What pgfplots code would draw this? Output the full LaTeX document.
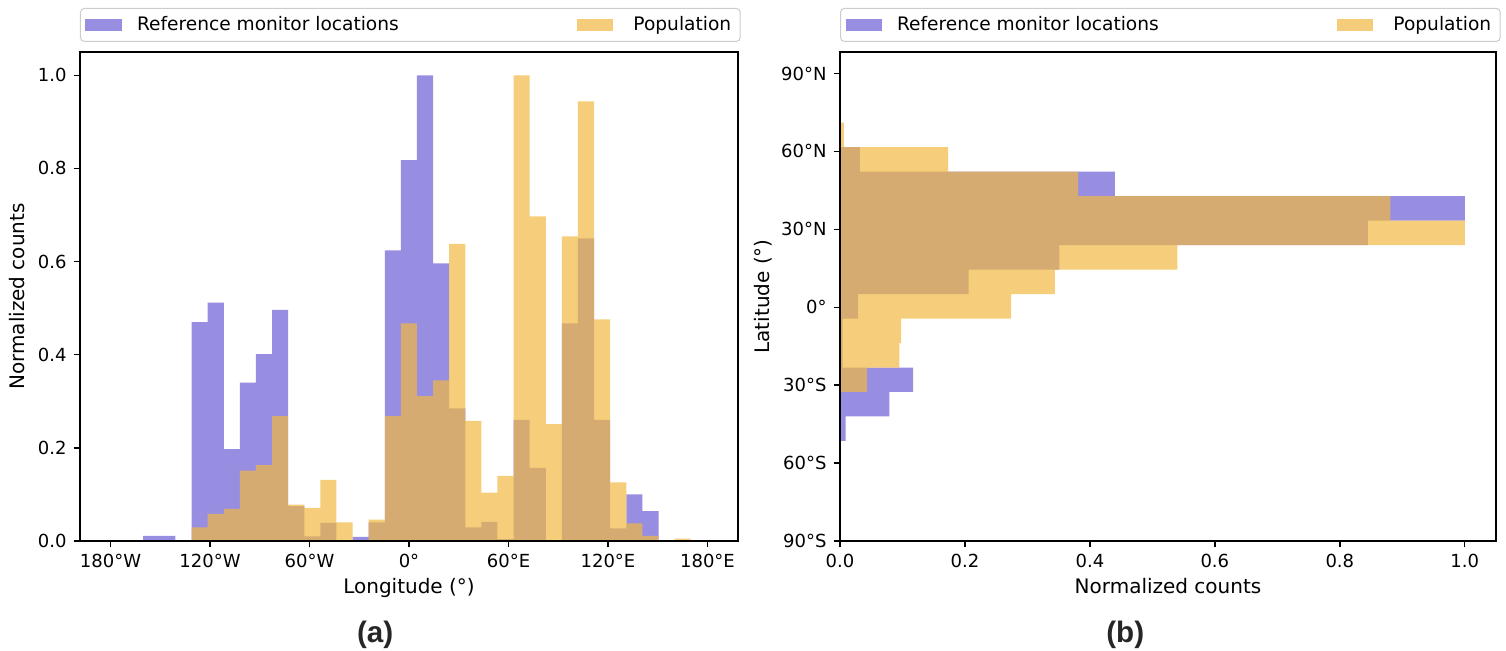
\documentclass[border=0pt]{standalone}
\usepackage{fontspec}
\setmainfont{DejaVu Sans}
\newfontfamily\labelfont{Liberation Sans}
\usepackage{pgfplots}
\pgfplotsset{compat=1.18}

\definecolor{purp}{RGB}{151,142,226}
\definecolor{pop}{RGB}{242,184,66}

\pgfplotsset{
  patch legend/.style={legend image code/.code={\fill[##1, sharp corners] (0pt,-3.15pt) rectangle (18.3pt,3.15pt);}},
  hist common/.style={
    scale only axis,
    axis on top,
    tick pos=left,
    tick align=outside,
    major tick length=3.2pt,
    axis line style={line width=0.7pt},
    every tick/.style={black, line width=0.7pt},
    tick label style={font=\fontsize{9}{10}\selectfont},
    /pgf/number format/assume math mode=true,
    label style={font=\fontsize{9.2}{11}\selectfont},
    legend columns=2,
    legend cell align=left,
    legend style={
      at={(0,1)}, anchor=south west, yshift=5pt,
      draw=black!20, line width=0.5pt, rounded corners=2pt,
      inner xsep=2.5pt, inner ysep=2pt,
      font=\fontsize{9.3}{11}\selectfont,
      nodes={inner sep=2pt, text depth=0.15em},
      /tikz/column 1/.style={column sep=5.5pt},
      /tikz/column 2/.style={column sep=87pt},
      /tikz/column 3/.style={column sep=8pt},
    },
  },
}

\begin{document}
\begin{tikzpicture}
\useasboundingbox (0,0) rectangle (753pt,325.5pt);

% (a) longitude histogram
\begin{axis}[
  hist common,
  at={(40pt,55pt)}, anchor=south west,
  width=329pt, height=244.5pt,
  xmin=-198.4, xmax=198.4, ymin=0, ymax=1.05,
  xtick={-180,-120,-60,0,60,120,180},
  xticklabels={180°W,120°W,60°W,0°,60°E,120°E,180°E},
  ytick={0,0.2,0.4,0.6,0.8,1},
  yticklabel style={/pgf/number format/.cd,fixed,fixed zerofill,precision=1},
  xlabel={Longitude (°)},
  ylabel={Normalized counts},
  every axis x label/.style={at={(axis description cs:0.5,-0.1084)}, anchor=base},
  every axis y label/.style={at={(axis description cs:-0.0836,0.5)}, rotate=90, anchor=base},
]
\addplot[ybar interval, fill=purp, draw=none, patch legend] coordinates {
(-160.26,0.011) (-150.55,0.011) (-140.84,0) (-131.13,0.470) (-121.42,0.512)
(-111.71,0.197) (-102.00,0.340) (-92.29,0.401) (-82.58,0.496) (-72.87,0.075)
(-63.16,0.010) (-53.45,0.039) (-43.74,0) (-34.03,0.009) (-24.32,0.040)
(-14.61,0.624) (-4.90,0.818) (4.81,1.0) (14.52,0.596) (24.23,0.285)
(33.94,0.029) (43.65,0.041) (53.36,0.004) (63.07,0.260) (72.78,0.157)
(82.49,0) (92.20,0.467) (101.91,0.650) (111.62,0.260) (121.33,0.027)
(131.04,0.100) (140.75,0.064) (150.46,0) (160.17,0) (169.88,0)
};
\addlegendentry{Reference monitor locations}
\addplot[ybar interval, fill=pop, fill opacity=0.7, draw=none, patch legend] coordinates {
(-160.26,0) (-150.55,0) (-140.84,0) (-131.13,0.029) (-121.42,0.058)
(-111.71,0.069) (-102.00,0.151) (-92.29,0.163) (-82.58,0.268) (-72.87,0.078)
(-63.16,0.071) (-53.45,0.131) (-43.74,0.040) (-34.03,0) (-24.32,0.046)
(-14.61,0.268) (-4.90,0.467) (4.81,0.311) (14.52,0.345) (24.23,0.638)
(33.94,0.258) (43.65,0.104) (53.36,0.140) (63.07,1.0) (72.78,0.697)
(82.49,0.251) (92.20,0.654) (101.91,0.944) (111.62,0.476) (121.33,0.126)
(131.04,0.038) (140.75,0.011) (150.46,0) (160.17,0.005) (169.88,0)
};
\addlegendentry{Population}
\end{axis}

% (b) latitude histogram
\begin{axis}[
  hist common,
  at={(420pt,55pt)}, anchor=south west,
  width=328pt, height=244.5pt,
  xmin=0, xmax=1.05, ymin=-90, ymax=98.3,
  xtick={0,0.2,0.4,0.6,0.8,1},
  xticklabel style={/pgf/number format/.cd,fixed,fixed zerofill,precision=1},
  ytick={-90,-60,-30,0,30,60,90},
  yticklabels={90°S,60°S,30°S,0°,30°N,60°N,90°N},
  xlabel={Normalized counts},
  ylabel={Latitude (°)},
  every axis x label/.style={at={(axis description cs:0.5,-0.1084)}, anchor=base},
  every axis y label/.style={at={(axis description cs:-0.1074,0.5)}, rotate=90, anchor=base},
]
\addplot[xbar interval, fill=purp, draw=none, patch legend] coordinates {
(0.009,-51.49) (0.079,-42.06) (0.117,-32.63) (0.004,-23.20) (0.004,-13.77)
(0.029,-4.34) (0.206,5.09) (0.351,14.52) (0.845,23.95) (1.0,33.38)
(0.440,42.81) (0.032,52.24) (0,61.67) (0,71.10)
};
\addlegendentry{Reference monitor locations}
\addplot[xbar interval, fill=pop, fill opacity=0.7, draw=none, patch legend] coordinates {
(0,-51.49) (0,-42.06) (0.043,-32.63) (0.095,-23.20) (0.098,-13.77)
(0.274,-4.34) (0.344,5.09) (0.540,14.52) (1.0,23.95) (0.881,33.38)
(0.381,42.81) (0.173,52.24) (0.006,61.67) (0,71.10)
};
\addlegendentry{Population}
\end{axis}

\node[font=\labelfont\bfseries\fontsize{14.8}{17}\selectfont, text=black!85, anchor=base] at (187.6pt,4pt) {(a)};
\node[font=\labelfont\bfseries\fontsize{14.8}{17}\selectfont, text=black!85, anchor=base] at (562.6pt,4pt) {(b)};
\end{tikzpicture}
\end{document}
